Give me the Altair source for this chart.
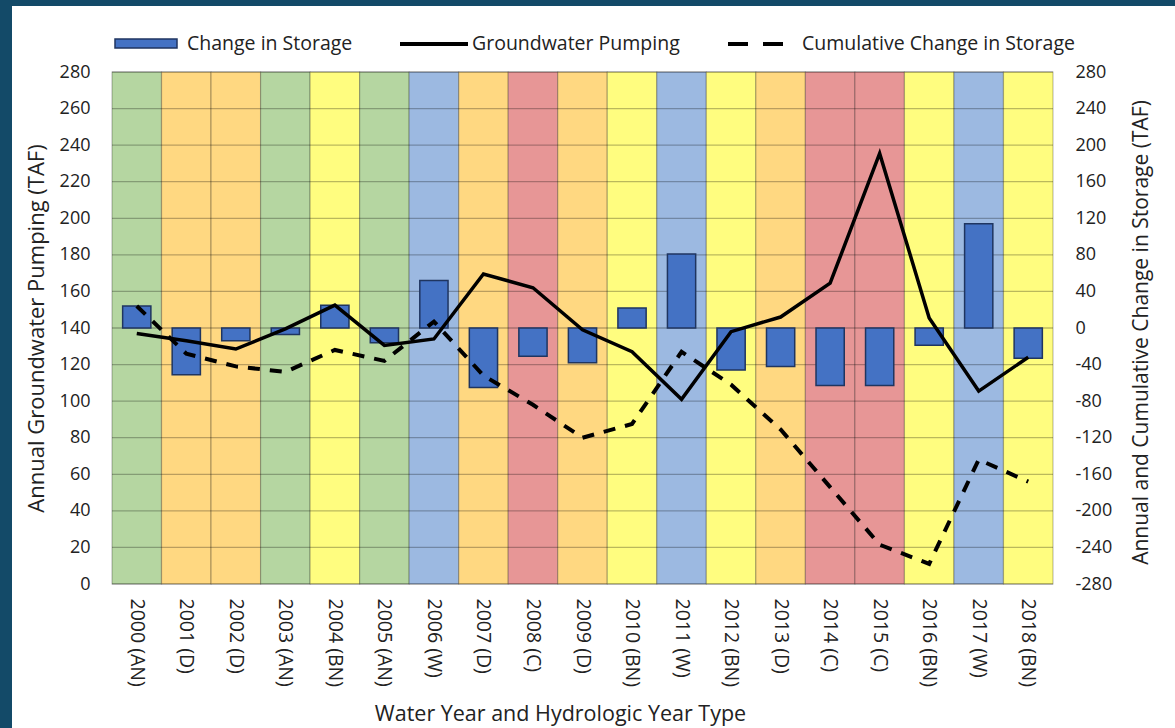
import altair as alt
import pandas as pd

years = ["2000 (AN)", "2001 (D)", "2002 (D)", "2003 (AN)", "2004 (BN)", "2005 (AN)",
         "2006 (W)", "2007 (D)", "2008 (C)", "2009 (D)", "2010 (BN)", "2011 (W)",
         "2012 (BN)", "2013 (D)", "2014 (C)", "2015 (C)", "2016 (BN)", "2017 (W)", "2018 (BN)"]
year_types = ["AN", "D", "D", "AN", "BN", "AN", "W", "D", "C", "D", "BN", "W",
              "BN", "D", "C", "C", "BN", "W", "BN"]
change_storage = [24, -51, -14, -7, 25, -16, 52, -65, -31, -38, 22, 81,
                  -46, -42, -63, -63, -19, 114, -33]
gw_pumping = [137, 133, 128.5, 139.5, 152.5, 130.5, 134, 169.5, 162, 139, 127, 101,
              138, 146, 164.5, 235.5, 145.5, 105.5, 124]
cumulative = [24, -28, -42, -48, -24, -36, 7, -52, -84, -120, -105, -26,
              -62, -111, -174, -237, -258, -144, -168]
left_ticks = list(range(0, 281, 20))
right_ticks = list(range(-280, 281, 40))

type_domain = ["W", "AN", "BN", "D", "C"]
type_colors = ["#9cb9e1", "#b5d6a1", "#fffd7f", "#ffd881", "#e79696"]

FONT = "Open Sans"
TXT = "#222222"
W, H = 941, 512

df = pd.DataFrame({"year": years, "type": year_types, "change": change_storage,
                   "pump": gw_pumping, "cum": cumulative})
grid_df = pd.DataFrame({"v": left_ticks})
one = pd.DataFrame({"a": [0]})

xenc = alt.X("year:N", sort=years,
             scale=alt.Scale(domain=years, paddingInner=0, paddingOuter=0),
             axis=alt.Axis(title="Water Year and Hydrologic Year Type", labelAngle=90,
                           labelAlign="left", labelBaseline="middle", labelPadding=14,
                           labelFontSize=19.5, labelFont=FONT, labelColor=TXT,
                           ticks=False, domain=False, titleFont=FONT, titleFontSize=21.5,
                           titleFontWeight="normal", titleColor=TXT,
                           titleX=448, titleY=136, titleAnchor="middle",
                           titleBaseline="alphabetic", zindex=1))

left_scale = alt.Scale(domain=[0, 280], nice=False, zero=False)
right_scale = alt.Scale(domain=[-280, 280], nice=False, zero=False)

panel = alt.Chart(one).mark_rect(color="white").encode(
    x=alt.value(-100), x2=alt.value(1063), y=alt.value(-66), y2=alt.value(656))

bands = alt.Chart(df).mark_rect(stroke="#000000", strokeOpacity=0.25, strokeWidth=1.2).encode(
    x=xenc,
    y=alt.value(0), y2=alt.value(H),
    color=alt.Color("type:N", scale=alt.Scale(domain=type_domain, range=type_colors), legend=None))

grid = alt.Chart(grid_df).mark_rule(color="#000000", opacity=0.27, strokeWidth=1.3).encode(
    y=alt.Y("v:Q", scale=left_scale, axis=None),
    x=alt.value(0), x2=alt.value(W))

bars = alt.Chart(df).mark_bar(width={"band": 0.57}, color="#4472c4", stroke="#1f3560",
                              strokeWidth=1.5).encode(
    x=xenc,
    y=alt.Y("change:Q", scale=right_scale,
            axis=alt.Axis(orient="right", values=right_ticks, labelExpr="'' + datum.value",
                          title="Annual and Cumulative Change in Storage (TAF)",
                          labelFont=FONT, labelFontSize=18, labelColor=TXT,
                          labelPadding=22, ticks=False, domain=False, grid=False,
                          titleFont=FONT, titleFontSize=21, titleFontWeight="normal",
                          titleColor=TXT, titleAngle=270, titleX=88, titleY=260,
                          titleAlign="center", titleBaseline="middle", zindex=1)),
    y2=alt.Y2(datum=0))

pump = alt.Chart(df).mark_line(color="black", strokeWidth=3.5).encode(
    x=xenc,
    y=alt.Y("pump:Q", scale=left_scale,
            axis=alt.Axis(orient="left", values=left_ticks,
                          title="Annual Groundwater Pumping (TAF)",
                          labelFont=FONT, labelFontSize=18, labelColor=TXT,
                          labelPadding=22, ticks=False, domain=False, grid=False,
                          titleFont=FONT, titleFontSize=22, titleFontWeight="normal",
                          titleColor=TXT, titlePadding=11, zindex=1)))

cum = alt.Chart(df).mark_line(color="black", strokeWidth=4, strokeDash=[12, 10]).encode(
    x=xenc,
    y=alt.Y("cum:Q", scale=right_scale, axis=None))

# manual legend
leg_rect = alt.Chart(one).mark_rect(color="#4472c4", stroke="#1f3560", strokeWidth=1.5).encode(
    x=alt.value(3), x2=alt.value(65), y=alt.value(-33), y2=alt.value(-24))
leg_line = alt.Chart(one).mark_rule(color="black", strokeWidth=4).encode(
    x=alt.value(288), x2=alt.value(356), y=alt.value(-28))
leg_dash = alt.Chart(one).mark_rule(color="black", strokeWidth=4, strokeDash=[20, 15]).encode(
    x=alt.value(616), x2=alt.value(671), y=alt.value(-28))
leg_text = alt.Chart(pd.DataFrame({
    "t": ["Change in Storage", "Groundwater Pumping", "Cumulative Change in Storage"],
    "px": [75, 360, 690]})).mark_text(align="left", baseline="middle", font=FONT,
                                     fontSize=19.5, color=TXT).encode(
    x=alt.X("px:Q", scale=None), y=alt.value(-28), text="t:N")

chart = alt.layer(panel, bands, grid, bars, pump, cum, leg_rect, leg_line, leg_dash, leg_text
).resolve_scale(y="independent", x="shared").properties(
    width=W, height=H,
    background="#134a68",
    padding={"left": 112, "top": 72, "right": 122, "bottom": 144},
    autosize=alt.AutoSizeParams(type="none")
).configure_view(stroke=None)

chart.save("out.html", embed_options={"renderer": "svg", "actions": False})
